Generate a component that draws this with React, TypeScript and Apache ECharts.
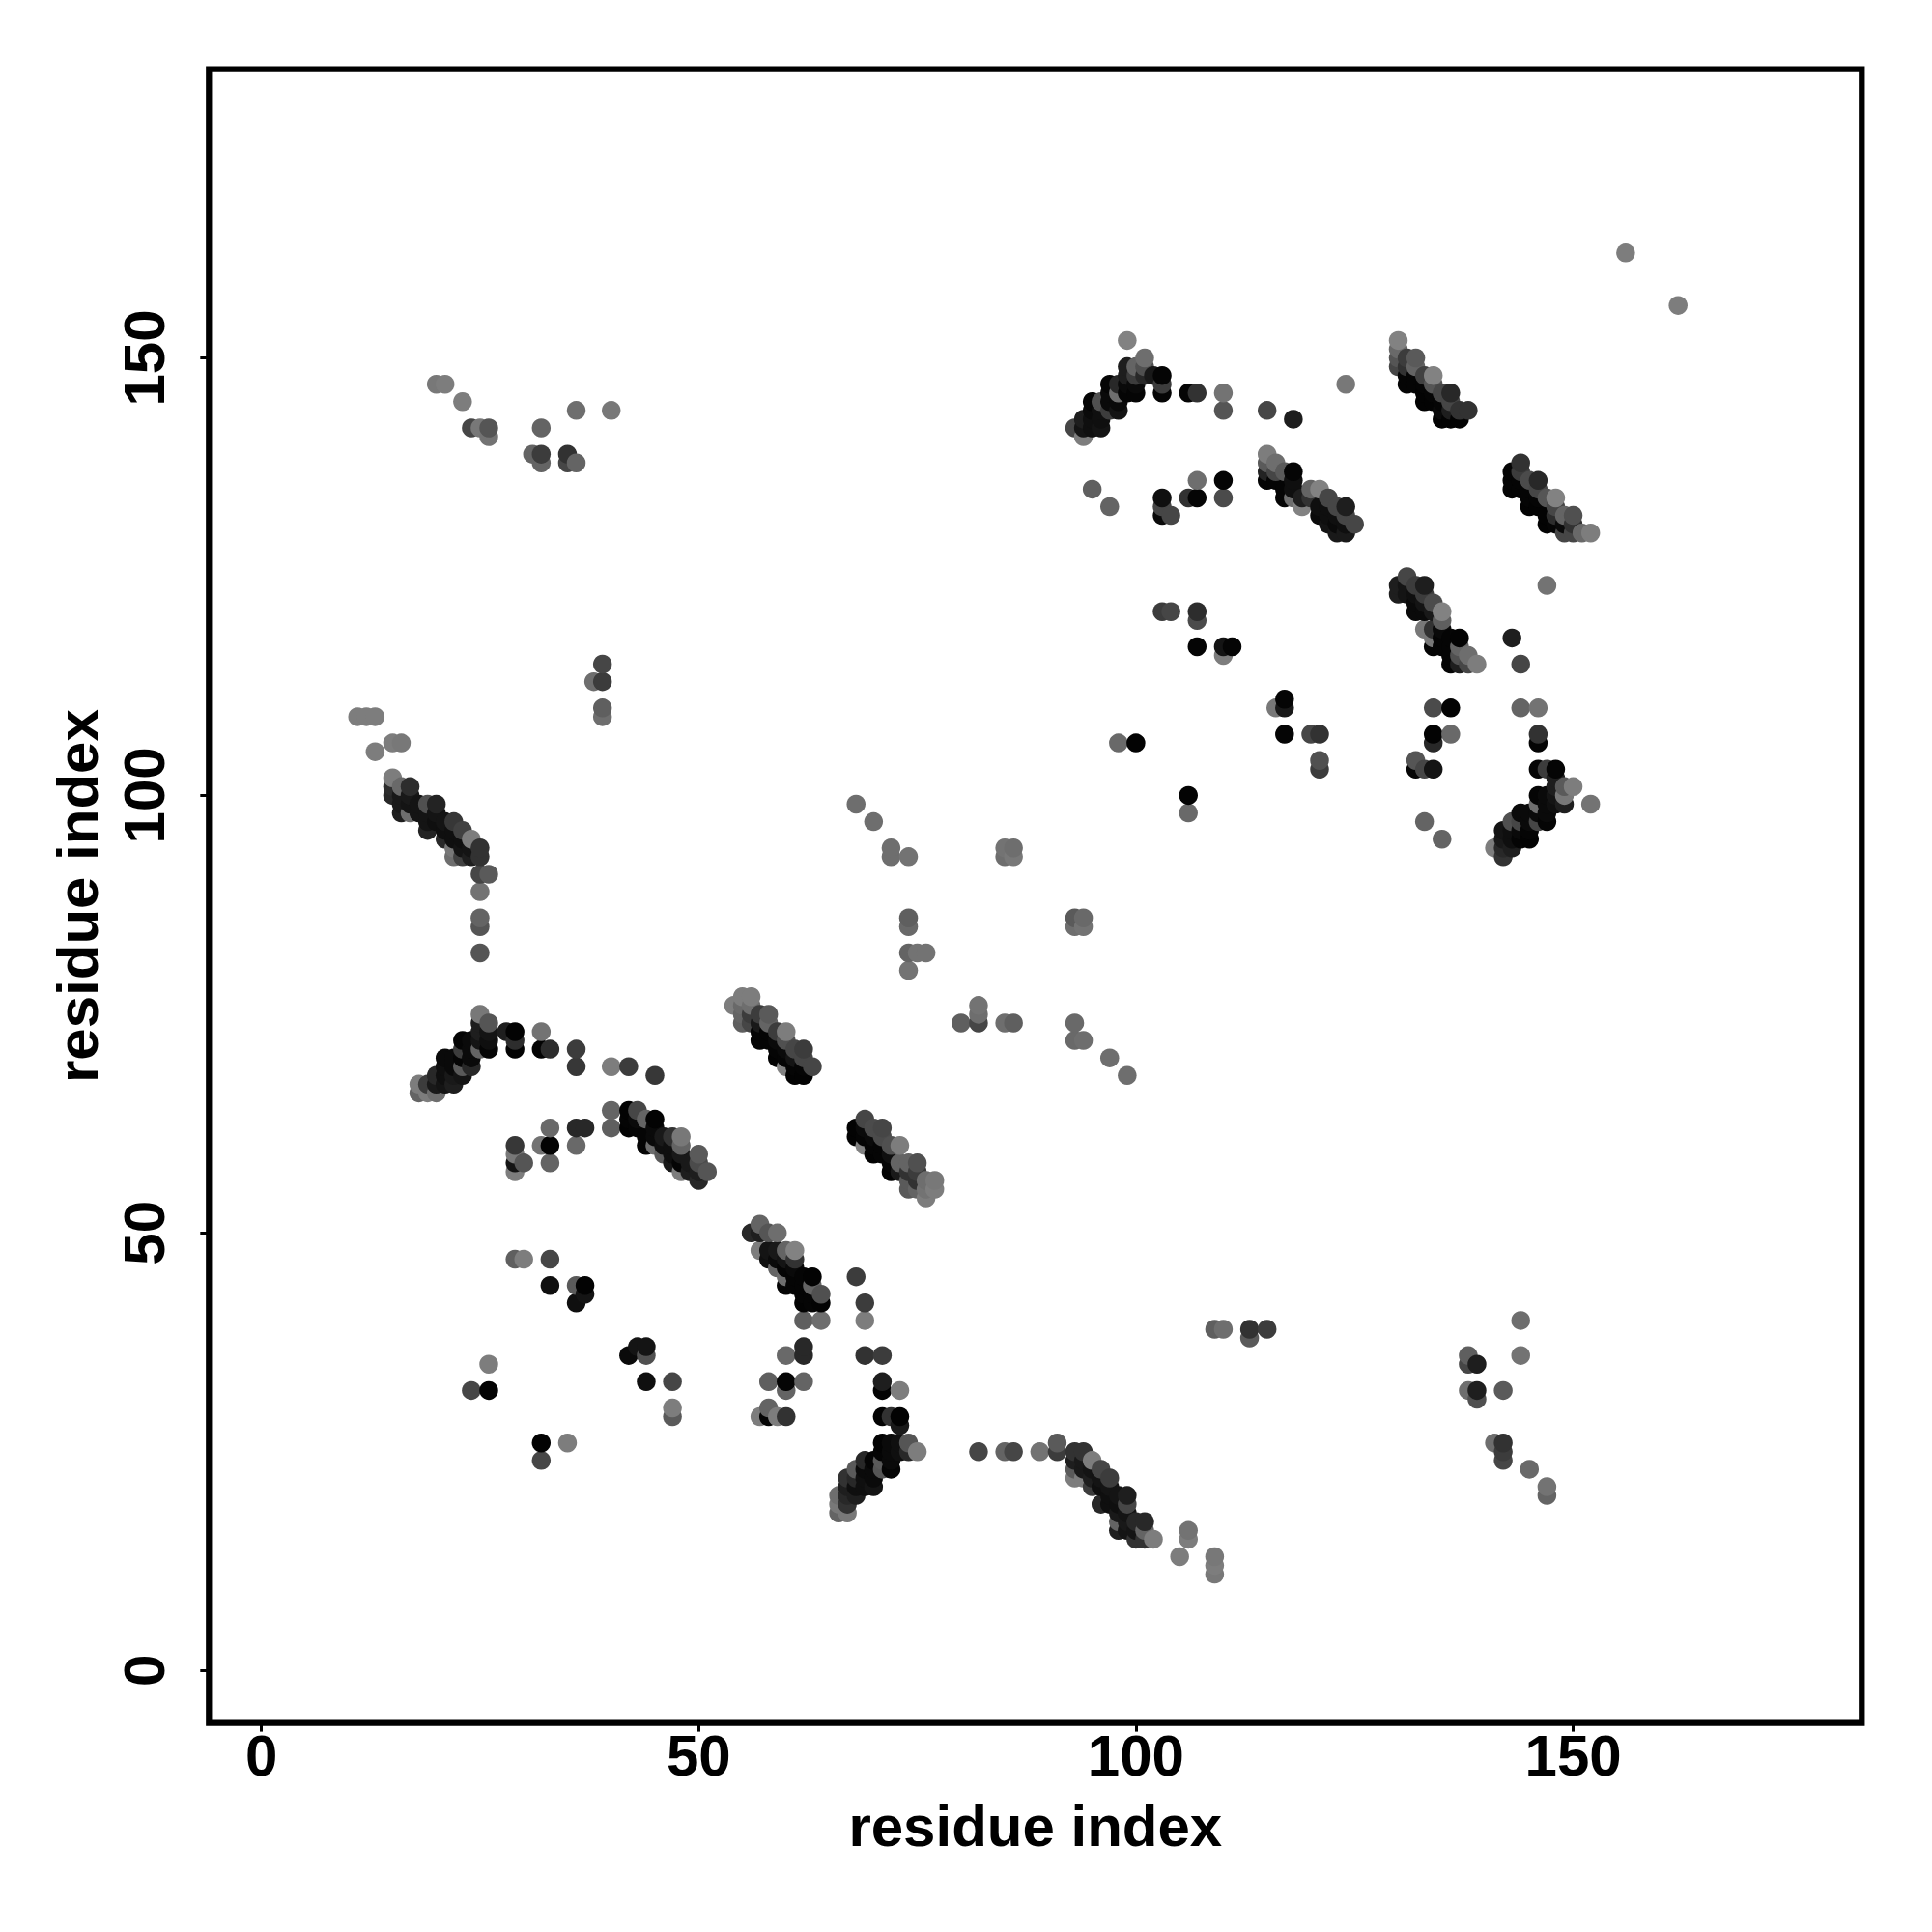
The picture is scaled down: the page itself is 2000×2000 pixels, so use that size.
import React, { useEffect, useRef } from "react";
import * as echarts from "echarts";

type P = number[]; // [residue i, residue j, shade]
const tickValues = [0, 50, 100, 150];
const axisTitle = "residue index";

const topLeft: P[] = [[20,147,120],[21,147,125],[23,145,125],[24,142,70],[25,142,120],[26,142,85],[26,141,115],[32,142,100],[36,144,110],[40,144,120],[31,139,100],[32,139,60],[32,138,100],[35,139,50],[35,138,70],[36,138,100],[39,115,70],[39,113,60],[38,113,110],[39,110,95],[39,109,110],[11,109,125],[12,109,125],[13,109,125],[15,106,125],[16,106,120],[13,105,125]];
const helixA: P[] = [[15,102,125],[16,101,105],[15,101,45],[15,100,40],[16,100,25],[17,101,45],[17,100,25],[16,99,25],[17,99,20],[18,99,20],[16,98,30],[17,98,110],[18,98,20],[19,98,20],[19,99,80],[20,99,35],[19,97,20],[20,98,20],[20,97,15],[21,97,20],[19,96,35],[21,96,15],[22,96,15],[22,97,55],[21,95,40],[22,95,15],[23,95,15],[23,96,65],[24,95,125],[24,94,20],[23,94,20],[22,94,120],[25,94,50],[25,93,50],[22,93,110],[23,93,65],[24,93,30],[25,91,70],[26,91,90],[25,89,115],[25,86,100],[25,85,85],[25,82,85]];
const arcTop: P[] = [[99,152,130],[101,150,110],[100,149,100],[99,149,30],[101,149,80],[102,148,25],[103,148,5],[103,147,60],[103,146,5],[97,147,5],[95,145,5],[94,143,30],[93,142,70],[94,141,125],[94,142,20],[95,142,15],[96,142,20],[95,143,15],[96,143,15],[95,144,10],[96,144,15],[96,145,80],[97,144,60],[98,144,20],[98,145,10],[97,145,10],[97,146,10],[98,146,110],[99,146,5],[100,146,5],[99,147,10],[100,147,10],[98,147,40],[99,148,30],[100,148,60],[101,148,40],[106,146,5],[107,146,50],[110,146,115],[110,144,85],[115,144,70],[118,143,30],[124,147,120]];
const middleRight: P[] = [[95,135,95],[97,133,100],[103,134,15],[103,133,70],[103,132,10],[104,132,70],[106,134,50],[107,134,5],[107,136,110],[110,136,5],[110,134,75],[103,121,60],[104,121,70],[107,121,45],[107,120,75],[107,117,5],[110,117,20],[111,117,5],[110,116,125],[117,111,5],[117,110,25],[116,110,120],[117,107,5],[120,107,70],[121,107,50],[121,104,80],[121,103,60],[98,106,105],[100,106,3],[106,100,3],[106,98,105]];
const helixB: P[] = [[115,139,125],[116,138,110],[115,138,90],[115,137,35],[115,136,5],[116,137,70],[116,136,5],[117,137,90],[118,137,5],[117,135,5],[117,134,5],[118,136,15],[118,135,15],[118,134,110],[119,133,130],[119,134,30],[120,135,100],[121,135,130],[120,134,50],[121,132,10],[122,134,70],[121,133,15],[122,133,15],[122,132,15],[123,133,70],[124,133,30],[123,132,15],[124,132,70],[125,131,70],[123,130,25],[124,130,25],[123,131,10],[124,131,15],[122,131,20]];
const helixC: P[] = [[130,152,130],[130,151,105],[130,150,85],[130,149,70],[131,150,60],[132,150,90],[131,149,50],[132,149,100],[131,148,5],[131,147,5],[132,148,5],[132,147,5],[133,148,65],[134,148,130],[133,147,5],[134,147,85],[133,146,3],[133,145,3],[134,146,5],[134,145,3],[135,146,70],[136,146,40],[135,145,5],[136,145,70],[135,144,10],[135,143,3],[136,143,3],[137,143,3],[137,144,50],[138,144,50],[136,144,30]];
const helixD: P[] = [[144,138,50],[143,137,5],[143,136,5],[143,135,5],[144,137,60],[144,136,5],[144,135,5],[145,136,75],[146,136,40],[145,135,5],[145,134,5],[145,133,3],[146,135,70],[146,134,5],[146,133,3],[147,134,85],[148,134,130],[147,132,3],[147,131,3],[148,133,70],[148,132,45],[148,131,5],[149,132,100],[150,132,80],[149,131,10],[150,131,50],[149,130,70],[150,130,70],[151,130,105],[152,130,125]];
const helixE: P[] = [[131,125,70],[130,124,30],[130,123,30],[131,124,20],[131,123,20],[132,124,60],[133,124,30],[132,123,15],[133,123,60],[134,122,75],[133,122,20],[132,122,10],[132,121,10],[133,121,10],[135,121,130],[134,121,25],[135,120,95],[133,119,120],[134,119,50],[135,119,10],[134,118,120],[135,118,5],[136,118,5],[137,118,3],[134,117,5],[135,117,5],[136,117,5],[137,117,100],[138,116,110],[136,116,5],[137,116,80],[136,115,5],[137,115,30],[138,115,70],[139,115,125],[143,118,30],[144,115,70],[147,124,115]];
const arcRight: P[] = [[134,110,75],[136,110,3],[134,107,3],[134,106,40],[136,107,105],[132,104,85],[132,103,5],[133,103,70],[134,103,20],[133,97,100],[135,95,100],[144,110,100],[146,110,115],[146,107,50],[146,106,5],[146,103,5],[147,103,60],[148,103,5],[148,102,30],[146,100,5],[147,100,10],[148,101,30],[149,101,90],[150,101,125],[149,100,120],[148,100,20],[149,99,30],[148,99,15],[147,99,10],[146,99,110],[152,99,115],[144,98,10],[145,98,10],[146,98,10],[147,98,10],[147,97,5],[146,97,70],[145,97,10],[144,97,70],[145,96,5],[144,96,10],[145,95,3],[144,95,5],[143,96,15],[143,97,80],[142,96,20],[143,95,15],[142,95,25],[143,94,30],[142,94,40],[141,94,125],[142,93,50]];
const arcMiddle: P[] = [[25,75,120],[26,74,85],[25,74,30],[25,73,30],[26,73,20],[25,72,20],[26,72,15],[26,71,5],[28,73,30],[29,73,3],[29,72,45],[29,71,3],[32,73,115],[32,71,3],[33,71,45],[36,71,60],[36,69,55],[40,69,125],[42,69,60],[45,68,55],[23,72,5],[24,72,10],[23,71,60],[24,71,10],[25,71,100],[21,70,10],[22,70,10],[23,70,5],[24,70,10],[21,69,15],[22,69,10],[23,69,90],[24,69,40],[20,68,40],[21,68,15],[22,68,25],[23,68,20],[19,67,60],[20,67,25],[21,67,20],[22,67,30],[18,67,125],[18,66,100],[19,66,125],[20,66,110]];
const helixF: P[] = [[40,64,100],[40,62,95],[42,64,3],[42,63,5],[42,62,3],[43,64,70],[43,63,10],[43,62,5],[44,63,100],[45,63,3],[44,61,5],[44,60,5],[45,62,10],[45,61,10],[45,60,110],[46,61,25],[46,60,15],[46,59,90],[47,61,50],[48,61,120],[47,60,15],[48,60,100],[47,59,15],[48,59,25],[47,58,25],[48,58,5],[48,57,125],[50,59,90],[50,58,75],[50,56,40],[51,57,85],[50,57,30],[49,58,25],[49,57,30]];
const leftMiddle: P[] = [[29,60,55],[29,59,120],[29,58,20],[30,58,85],[29,57,125],[33,62,105],[32,60,115],[33,60,3],[33,58,100],[36,62,40],[37,62,40],[36,60,105]];
const helixG: P[] = [[54,76,125],[55,77,125],[56,77,125],[55,76,105],[56,76,110],[55,75,100],[56,75,60],[55,74,95],[56,74,70],[57,75,60],[58,75,90],[57,74,25],[58,74,100],[57,73,5],[57,72,5],[58,73,5],[58,72,5],[59,73,60],[60,73,125],[59,72,10],[60,72,80],[59,71,5],[59,70,3],[60,71,10],[60,70,5],[61,71,70],[62,71,60],[61,70,20],[62,70,70],[60,69,130],[61,69,5],[61,68,3],[62,68,3],[63,69,70],[62,69,5]];
const helixH: P[] = [[69,63,70],[68,62,3],[68,61,3],[69,62,10],[69,61,5],[70,62,75],[71,62,70],[70,61,10],[71,61,75],[70,60,5],[70,59,3],[71,60,5],[71,59,5],[69,60,130],[72,60,80],[73,60,125],[72,59,15],[72,58,5],[72,57,3],[73,58,100],[74,58,100],[75,58,80],[73,57,25],[74,57,50],[75,57,60],[74,56,90],[75,56,50],[74,55,90],[75,55,100],[76,56,110],[77,56,120],[76,55,115],[77,55,125],[76,54,125]];
const scatterMiddle: P[] = [[68,99,110],[70,97,110],[72,94,110],[72,93,110],[74,93,115],[74,86,95],[74,85,105],[74,82,100],[75,82,115],[76,82,115],[74,80,115],[85,94,115],[86,94,110],[85,93,110],[86,93,120],[93,86,90],[94,86,105],[93,85,110],[94,85,115],[93,74,105],[93,72,105],[94,72,110],[97,70,110],[99,68,110],[85,74,110],[86,74,95],[82,76,115],[82,75,110],[82,74,70],[80,74,95]];
const lowerLeft: P[] = [[29,47,95],[30,47,125],[33,47,70],[33,44,15],[36,44,90],[37,44,3],[37,43,20],[36,42,15],[43,37,20],[44,37,20],[42,36,10],[44,36,80],[44,33,15],[47,33,70],[47,30,125],[47,29,90],[26,35,125],[24,32,70],[26,32,3],[32,26,3],[35,26,125],[32,24,70]];
const helixI: P[] = [[57,51,100],[56,50,40],[58,50,85],[59,50,110],[57,50,30],[57,48,125],[58,48,20],[59,48,25],[60,48,100],[61,48,130],[58,47,15],[59,47,10],[60,47,20],[61,47,50],[59,46,100],[60,46,5],[60,45,110],[61,46,10],[61,45,5],[60,44,5],[61,44,5],[62,45,5],[63,45,3],[62,44,5],[63,44,100],[64,43,80],[62,43,5],[63,43,5],[62,42,3],[63,42,5],[64,42,3],[62,40,95],[64,40,110],[68,45,60],[69,42,60],[69,40,125]];
const lowerMiddle: P[] = [[62,37,40],[62,36,40],[60,36,105],[58,33,95],[60,33,5],[62,33,100],[60,32,100],[58,30,100],[57,29,125],[58,29,5],[59,29,125],[60,29,50],[69,36,50],[71,36,60],[71,33,30],[71,32,3],[73,32,125],[71,29,3],[72,29,50],[73,29,3],[73,28,25]];
const arcBottom: P[] = [[71,26,3],[72,26,10],[73,26,15],[74,26,85],[75,25,125],[74,25,40],[73,25,15],[72,25,10],[71,25,5],[71,24,90],[72,24,10],[72,23,5],[71,23,85],[69,24,40],[70,24,5],[70,23,10],[69,23,10],[70,22,10],[69,22,15],[68,23,90],[70,21,20],[69,21,15],[68,22,40],[67,22,50],[68,21,15],[67,21,30],[68,20,30],[67,20,40],[67,19,50],[66,20,110],[66,19,120],[66,18,100],[67,18,120]];
const helixJ: P[] = [[82,25,70],[85,25,100],[86,25,70],[89,25,115],[91,26,90],[91,25,60],[93,25,50],[94,25,50],[93,24,30],[93,23,90],[93,22,125],[94,22,125],[94,24,25],[94,23,25],[95,24,125],[95,23,20],[95,22,30],[95,21,60],[96,23,70],[97,22,60],[96,22,20],[96,21,15],[96,19,40],[97,21,20],[97,20,15],[97,19,15],[98,20,20],[99,20,30],[99,19,70],[98,19,15],[98,18,25],[99,18,20],[98,17,100],[98,16,30],[99,17,25],[99,16,20],[100,17,40],[101,17,40],[100,16,20],[101,16,100],[100,15,50],[101,15,50],[102,15,125],[106,16,115],[106,15,125],[105,13,125],[109,13,120],[109,12,125],[109,11,120]];
const lowerRight: P[] = [[109,39,95],[110,39,110],[113,39,50],[113,38,90],[115,39,60],[138,36,95],[138,35,70],[139,35,30],[138,32,110],[139,32,30],[139,31,80],[142,32,90],[144,40,110],[144,36,115],[141,26,110],[142,26,50],[142,25,60],[142,24,70],[145,23,105],[147,21,115],[147,20,100],[156,162,125],[162,156,125]];

const clusters: P[][] = [topLeft, helixA, arcTop, middleRight, helixB, helixC, helixD, helixE, arcRight, arcMiddle, helixF, leftMiddle, helixG, helixH, scatterMiddle, lowerLeft, helixI, lowerMiddle, arcBottom, helixJ, lowerRight];
const contacts: P[] = clusters.flat().sort((a, b) => a[0] - b[0] || a[1] - b[1]);

const FONT = "Liberation Sans";

function makeAxis(isY: boolean) {
  return {
    type: "value",
    min: -6,
    max: 183,
    name: axisTitle,
    nameLocation: "middle",
    nameGap: isY ? 136 : 107,
    nameMoveOverlap: false,
    nameTextStyle: { fontFamily: FONT, fontWeight: "bold", fontSize: 60, color: "#000", verticalAlign: "middle", align: "center" },
    splitLine: { show: false },
    axisLine: { show: false, onZero: false },
    axisTick: { show: true, length: 9, inside: false, customValues: tickValues, lineStyle: { color: "#000", width: 3 } },
    axisLabel: {
      show: true,
      customValues: tickValues,
      rotate: isY ? 90 : 0,
      margin: isY ? 37 : 4,
      hideOverlap: false,
      showMinLabel: true,
      showMaxLabel: true,
      fontFamily: FONT,
      fontWeight: "bold",
      fontSize: 60,
      color: "#000",
    },
  };
}

export default function App() {
  const ref = useRef<HTMLDivElement>(null);
  useEffect(() => {
    const chart = echarts.init(ref.current!, undefined, { renderer: "svg" });
    chart.setOption({
      animation: false,
      backgroundColor: "#fff",
      grid: { left: 216.3, top: 71.6, width: 1711, height: 1712, show: true, backgroundColor: "transparent", borderColor: "#000", borderWidth: 6.3 },
      xAxis: makeAxis(false),
      yAxis: makeAxis(true),
      series: [
        {
          type: "scatter",
          symbol: "circle",
          symbolSize: 19.5,
          large: false,
          data: contacts.map((p) => ({
            value: [p[0], p[1]],
            itemStyle: { color: `rgb(${p[2]},${p[2]},${p[2]})`, opacity: 1 },
          })),
        },
      ],
    });
    return () => chart.dispose();
  }, []);
  return <div ref={ref} style={{ position: "absolute", left: 0, top: 0, width: 2000, height: 2000 }} />;
}
